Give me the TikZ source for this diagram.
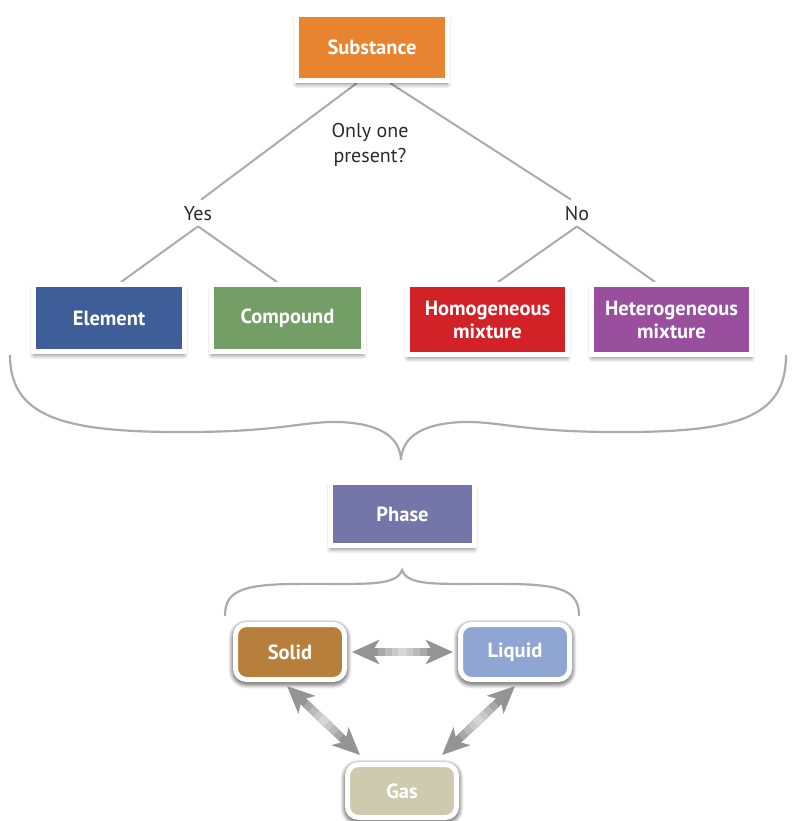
\documentclass[tikz,border=0pt]{standalone}
\usepackage{fontspec}
\setmainfont{PT Sans}
\usetikzlibrary{shadows.blur,arrows.meta,calc,backgrounds}
\definecolor{orangeC}{HTML}{E8832F}
\definecolor{elemC}{HTML}{3D5E98}
\definecolor{compC}{HTML}{739E66}
\definecolor{homC}{HTML}{D32128}
\definecolor{hetC}{HTML}{9A4E9E}
\definecolor{phaseC}{HTML}{7475A9}
\definecolor{solidC}{HTML}{B87E3C}
\definecolor{liquidC}{HTML}{8FA5D2}
\definecolor{gasC}{HTML}{CDCAAF}
\definecolor{lineC}{HTML}{ABABAB}
\definecolor{txtC}{HTML}{2B2B2B}
\tikzset{
  box/.style={draw=white, line width=5pt, text=white, align=center, inner sep=0pt,
    font=\bfseries\fontsize{20.5}{23}\selectfont,
    blur shadow={shadow blur steps=6, shadow xshift=0pt, shadow yshift=-4pt, shadow opacity=45, shadow blur radius=4pt}},
  pbox/.style={box, rounded corners=11pt, minimum width=109pt, minimum height=55pt,
    blur shadow={shadow blur steps=8, shadow xshift=0pt, shadow yshift=-2pt, shadow opacity=70, shadow blur radius=7pt}},
  lbl/.style={text=txtC, align=center, inner sep=1pt, font=\fontsize{20}{25}\selectfont},
  conn/.style={draw=lineC, line width=2pt},
  brace/.style={draw=lineC, line width=2.2pt},
  dbl/.style={draw=black!42, line width=8pt, {Stealth[length=27pt,width=24pt,inset=7pt]}-{Stealth[length=27pt,width=24pt,inset=7pt]}},
  mid1/.style={draw=black!34, line width=8pt, shorten <=26pt, shorten >=26pt},
  mid2/.style={draw=black!27, line width=8pt, shorten <=33pt, shorten >=33pt},
  mid3/.style={draw=black!21, line width=8pt, shorten <=40pt, shorten >=40pt},
  mid4/.style={draw=black!16, line width=8pt, shorten <=46pt, shorten >=46pt}
}
\begin{document}
\begin{tikzpicture}[x=1pt,y=-1pt]
\useasboundingbox (0,0) rectangle (793,821);
% boxes
\node[box, fill=orangeC, minimum width=151pt, minimum height=66pt] (sub) at (372,47.5) {Substance};
\node[box, fill=elemC, minimum width=151pt, minimum height=67pt] (elem) at (109,318) {Element};
\node[box, fill=compC, minimum width=152pt, minimum height=67pt] (comp) at (287.5,318) {Compound};
\node[box, fill=homC, minimum width=160pt, minimum height=70pt] (hom) at (487.5,319.5) {Homogeneous\\mixture};
\node[box, fill=hetC, minimum width=160pt, minimum height=70pt] (het) at (671.5,319.5) {Heterogeneous\\mixture};
\node[box, fill=phaseC, minimum width=144pt, minimum height=63pt] (phase) at (402.5,514) {Phase};
\node[pbox, fill=solidC] (solid) at (290,652) {Solid};
\node[pbox, fill=liquidC] (liquid) at (515,652) {Liquid};
\node[pbox, fill=gasC, minimum height=53pt] (gas) at (402,791) {Gas};
% labels
\node[lbl] (q) at (370,145) {Only one\\present?};
\node[lbl] (yes) at (198,214) {Yes};
\node[lbl] (no) at (577,214) {No};
% connectors
\begin{scope}[on background layer]
\draw[conn] ($(sub.south)+(-15,0)$) -- ($(yes.north)+(3,-6)$);
\draw[conn] ($(sub.south)+(18,0)$) -- ($(no.north)+(-6,-6)$);
\draw[conn] ($(yes.south)+(0,4)$) -- ($(elem.north)+(12,0)$);
\draw[conn] ($(yes.south)+(0,4)$) -- ($(comp.north)+(-10.5,0)$);
\draw[conn] ($(no.south)+(0,4)$) -- ($(hom.north)+(10.5,0)$);
\draw[conn] ($(no.south)+(0,4)$) -- ($(het.north)+(-16.5,0)$);
\end{scope}
% big brace
\draw[brace] (10,355) .. controls (10,415) and (60,431) .. (170,432)
  .. controls (280,433) and (300,421) .. (340,422)
  .. controls (385,424) and (400,440) .. (401,460)
  .. controls (402,440) and (417,424) .. (462,422)
  .. controls (502,421) and (522,433) .. (632,432)
  .. controls (742,431) and (786,415) .. (786,355);
% small brace
\draw[brace] (225,616) .. controls (225,592) and (240,585) .. (290,584)
  .. controls (360,583) and (396,588) .. (402,570)
  .. controls (408,588) and (444,583) .. (514,584)
  .. controls (564,585) and (579,592) .. (579,616);
% phase arrows
\foreach \a/\b in {{($(solid.east)+(5,0)$)}/{($(liquid.west)+(-5,0)$)},
                   {($(solid.south)+(-3,4)$)}/{($(gas.north)+(-42,-7)$)},
                   {($(liquid.south)+(0,4)$)}/{($(gas.north)+(40,-7)$)}}{
  \draw[dbl] \a -- \b;
  \draw[mid1] \a -- \b;
  \draw[mid2] \a -- \b;
  \draw[mid3] \a -- \b;
  \draw[mid4] \a -- \b;
}
\end{tikzpicture}
\end{document}
